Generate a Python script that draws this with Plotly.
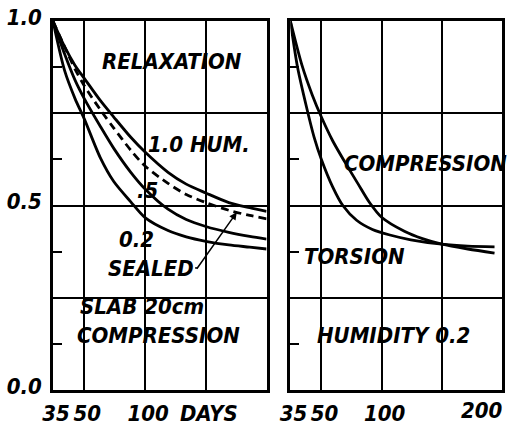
import math
import plotly.graph_objects as go

# ---- data ----
days_l = [35, 40, 45, 50, 60, 70, 85, 100, 130, 160, 200, 260, 330, 400]
hum_10 = [1.0, 0.93, 0.88, 0.845, 0.785, 0.74, 0.685, 0.645, 0.59, 0.558, 0.534, 0.508, 0.494, 0.484]
sealed = [1.0, 0.93, 0.87, 0.825, 0.76, 0.71, 0.65, 0.607, 0.56, 0.53, 0.508, 0.487, 0.473, 0.464]
hum_05 = [1.0, 0.91, 0.84, 0.79, 0.715, 0.655, 0.59, 0.545, 0.49, 0.462, 0.443, 0.427, 0.416, 0.409]
hum_02 = [1.0, 0.865, 0.79, 0.735, 0.63, 0.565, 0.51, 0.467, 0.432, 0.415, 0.403, 0.393, 0.387, 0.382]

days_torsion = [35, 38, 42, 46, 50, 57, 64, 75, 90, 110, 140, 200, 270, 367]
torsion = [1.0, 0.875, 0.77, 0.685, 0.625, 0.55, 0.50, 0.46, 0.435, 0.42, 0.407, 0.395, 0.39, 0.388]
days_compr = [35, 40, 45, 50, 57, 66, 76, 87, 100, 130, 160, 200, 270, 367]
compression = [1.0, 0.88, 0.80, 0.74, 0.675, 0.615, 0.56, 0.508, 0.468, 0.43, 0.41, 0.395, 0.382, 0.371]

x_tickvals = [35, 50, 100, 200]
x_ticktext_left = ["35", "50", "100", "DAYS"]
x_ticktext_right = ["35", "50", "100", ""]
y_tickvals = [0, 0.25, 0.5, 0.75, 1.0]
y_ticktext = ["0.0", "", "0.5", "", "1.0"]
y_minor = [0.125, 0.375, 0.625, 0.875]
x_range_days = [35, 400]

FONT = "DejaVu Sans Condensed"
W, H = 510, 431
ML, MR, MT, MB = 53, 5, 11, 36
PW = W - ML - MR
PH = H - MT - MB

def px2paper(px, py):
    return (px - ML) / PW, (H - MB - py) / PH

fig = go.Figure()
line_style = dict(color="black", width=2.8, shape="spline", smoothing=0.8)

for ys, dash in [(hum_10, "solid"), (sealed, "8px,5px"), (hum_05, "solid"), (hum_02, "solid")]:
    fig.add_trace(go.Scatter(x=days_l, y=ys, mode="lines",
                             line=dict(dash=dash, **line_style),
                             xaxis="x", yaxis="y", showlegend=False, hoverinfo="skip"))
fig.add_trace(go.Scatter(x=days_torsion, y=torsion, mode="lines", line=line_style,
                         xaxis="x2", yaxis="y2", showlegend=False, hoverinfo="skip"))
fig.add_trace(go.Scatter(x=days_compr, y=compression, mode="lines", line=line_style,
                         xaxis="x2", yaxis="y2", showlegend=False, hoverinfo="skip"))
for xa, ya in [("x", "y"), ("x2", "y2")]:
    fig.add_trace(go.Scatter(x=[days_l[0]], y=[hum_10[0]], mode="markers",
                             marker=dict(symbol="circle-open", size=6, color="black",
                                         line=dict(width=1.5, color="black")),
                             cliponaxis=False, xaxis=xa, yaxis=ya,
                             showlegend=False, hoverinfo="skip"))

tickfont = dict(family=FONT, size=22, color="black", style="italic", weight="bold")
xr = [math.log10(v) for v in x_range_days]
xcommon = dict(type="log", range=xr, tickvals=x_tickvals, showgrid=True,
               gridcolor="black", gridwidth=1.6, showline=True, mirror=True,
               linecolor="black", linewidth=2.5, ticks="", tickfont=tickfont,
               zeroline=False, ticklabeloverflow="allow",
               ticklabelshift=3, ticklabelstandoff=2)
ycommon = dict(range=[-0.0005, 1.0005], tickvals=y_tickvals, showgrid=True,
               gridcolor="black", gridwidth=1.6, showline=True, mirror=True,
               linecolor="black", linewidth=2.5, ticks="", tickfont=tickfont,
               zeroline=False, ticklabeloverflow="allow",
               minor=dict(tickvals=y_minor, ticks="inside", ticklen=9,
                          tickwidth=1.6, tickcolor="black", showgrid=False))

d_left = [0, (268 - ML) / PW]
d_right = [(292 - ML) / PW, 1]

fig.update_layout(
    width=W, height=H, autosize=False,
    margin=dict(l=ML, r=MR, t=MT, b=MB, pad=0),
    paper_bgcolor="white", plot_bgcolor="white",
    xaxis=dict(domain=d_left, ticktext=x_ticktext_left, anchor="y", **xcommon),
    yaxis=dict(domain=[0, 1], ticktext=y_ticktext, anchor="x", ticklabelstandoff=4,
               ticklabelshift=-4, **ycommon),
    xaxis2=dict(domain=d_right, ticktext=x_ticktext_right, anchor="y2", **xcommon),
    yaxis2=dict(domain=[0, 1], ticktext=["", "", "", "", ""], anchor="x2", **ycommon),
)

labels = [
    ("RELAXATION", 173, 53, 156, 20),
    ("1.0 HUM.", 200, 140, 100, 20),
    (".5", 148, 187, 22, 20),
    ("0.2", 137, 238, 40, 20),
    ("SEALED", 152, 269, 92, 20),
    ("SLAB 20cm", 143, 308, 136, 20),
    ("COMPRESSION", 159, 338, 164, 20),
    ("COMPRESSION", 428, 159, 156, 20),
    ("TORSION", 357, 256, 102, 20),
    ("HUMIDITY 0.2", 396, 338, 174, 20),
]
lab_font = dict(family=FONT, size=22, color="black", style="italic", weight="bold")
for text, cx, cy, w, h in labels:
    x0, y0 = px2paper(cx - w / 2, cy + h / 2)
    x1, y1 = px2paper(cx + w / 2, cy - h / 2)
    fig.add_shape(type="rect", xref="paper", yref="paper", x0=x0, y0=y0, x1=x1, y1=y1,
                  fillcolor="white", line=dict(width=0), layer="between")
    ax, ay = px2paper(cx, cy)
    fig.add_annotation(text=text, xref="paper", yref="paper", x=ax, y=ay,
                       xanchor="center", yanchor="middle", showarrow=False, font=lab_font)

# "200" label of the right panel, drawn at the right end as in the reference
lx, ly = px2paper(485, 416)
fig.add_annotation(text="200", xref="paper", yref="paper", x=lx, y=ly,
                   xanchor="center", yanchor="middle", showarrow=False, font=tickfont)

# leader from SEALED to the dashed curve
tx, ty = px2paper(238, 210)
fig.add_annotation(text="", xref="paper", yref="paper", x=tx, y=ty,
                   ax=-41, ay=58, axref="pixel", ayref="pixel",
                   showarrow=True, arrowhead=2, arrowsize=1, arrowwidth=1.5,
                   arrowcolor="black")
sx0, sy0 = px2paper(196, 268)
sx1, sy1 = px2paper(198, 268)
fig.add_shape(type="line", xref="paper", yref="paper", x0=sx0, y0=sy0, x1=sx1, y1=sy1,
              line=dict(color="black", width=1.5))

fig.write_html("out.html", config={"displayModeBar": False},
               post_script="document.body.style.margin='0';document.body.style.padding='0';")
